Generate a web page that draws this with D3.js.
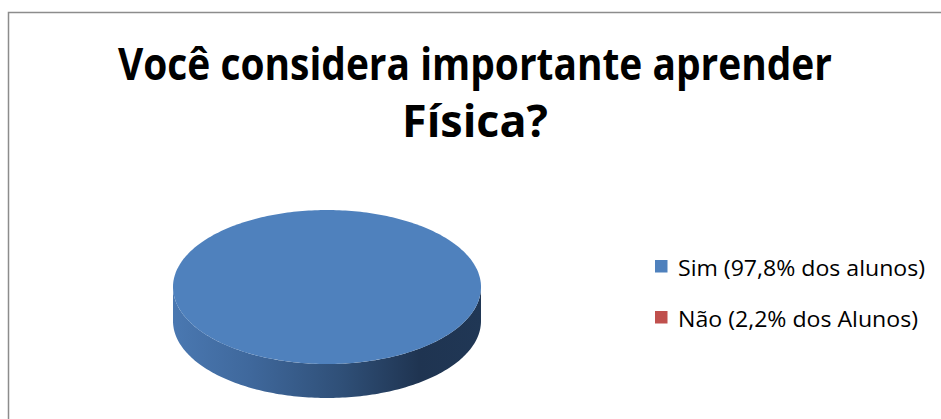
<!DOCTYPE html>
<html>
<head>
<meta charset="utf-8">
<script src="https://cdn.jsdelivr.net/npm/d3@7"></script>
<style>
  body { margin: 0; background: #fff; }
  text { font-family: "Open Sans", "Noto Sans", sans-serif; }
</style>
</head>
<body>
<div id="chart"></div>
<script>
// data
var titleLines = ['Você considera importante aprender', 'Física?']
var categories = ['Sim', 'Não']
var legendLabels = ['Sim (97,8% dos alunos)', 'Não (2,2% dos Alunos)']
// the red slice does not show at all in the picture, the whole disc is blue
var values = [100, 0]
var colors = ['#4f81bd', '#c0504d']

var W = 941, H = 419
var svg = d3.select('#chart').append('svg')
    .attr('width', W)
    .attr('height', H)

// chart frame (only top and left edges show)
svg.append('path')
    .attr('d', 'M8.5,' + H + ' L8.5,12.5 L' + W + ',12.5')
    .attr('fill', 'none')
    .attr('stroke', '#8c8c8c')
    .attr('stroke-width', 1.5)

// title, stretched to the width it has in the picture
var titleWidths = [714, 146]
svg.selectAll('text.title')
    .data(titleLines)
    .enter()
    .append('text')
    .attr('class', 'title')
    .attr('x', 475)
    .attr('y', (d, i) => 80 + i * 57)
    .attr('text-anchor', 'middle')
    .attr('font-size', 44)
    .attr('font-weight', 'bold')
    .attr('fill', '#000')
    .attr('textLength', (d, i) => titleWidths[i])
    .attr('lengthAdjust', 'spacingAndGlyphs')
    .text(d => d)

// 3d pie
var cx = 327, cy = 287, rx = 154, ry = 77, depth = 34
var pie = d3.pie().sort(null)
var arcs = pie(values)

var defs = svg.append('defs')
var sideStops = [
    ['0%', '#4a78b1'], ['25%', '#3f689c'], ['55%', '#2f4f77'],
    ['80%', '#1f3451'], ['100%', '#203755']
]
var grad = defs.append('linearGradient')
    .attr('id', 'side-blue')
    .attr('gradientUnits', 'userSpaceOnUse')
    .attr('x1', cx - rx).attr('x2', cx + rx)
    .attr('y1', 0).attr('y2', 0)
grad.selectAll('stop')
    .data(sideStops)
    .enter()
    .append('stop')
    .attr('offset', d => d[0])
    .attr('stop-color', d => d[1])

var px = a => cx + rx * Math.sin(a)
var py = a => cy - ry * Math.cos(a)

function arcPoints(a0, a1, dy) {
    var pts = [], n = Math.max(2, Math.ceil(Math.abs(a1 - a0) / 0.02))
    for (var k = 0; k <= n; k++) {
        var a = a0 + (a1 - a0) * k / n
        pts.push([px(a), py(a) + dy])
    }
    return pts
}

var line = d3.line()

// side walls, front half only (between pi/2 and 3pi/2)
arcs.forEach(function(d, i) {
    var a0 = Math.max(d.startAngle, Math.PI / 2)
    var a1 = Math.min(d.endAngle, 3 * Math.PI / 2)
    if (a1 <= a0) return
    var pts = arcPoints(a0, a1, 0).concat(arcPoints(a1, a0, depth))
    svg.append('path')
        .attr('d', line(pts) + 'Z')
        .attr('fill', i == 0 ? 'url(#side-blue)' : d3.color(colors[i]).darker(1.2))
})

// top faces
arcs.forEach(function(d, i) {
    if (d.endAngle - d.startAngle <= 0) return
    var pts = arcPoints(d.startAngle, d.endAngle, 0)
    if (d.endAngle - d.startAngle < 2 * Math.PI - 1e-6) pts.unshift([cx, cy])
    svg.append('path')
        .attr('d', line(pts) + 'Z')
        .attr('fill', colors[i])
})

// legend
var legend = svg.selectAll('g.legend')
    .data(categories)
    .enter()
    .append('g')
    .attr('class', 'legend')
    .attr('transform', (d, i) => 'translate(655,' + (260 + i * 51) + ')')
legend.append('rect')
    .attr('width', 12.5)
    .attr('height', 12.5)
    .attr('fill', (d, i) => colors[i])
legend.append('text')
    .attr('x', 23)
    .attr('y', 16)
    .attr('font-size', 21)
    .attr('fill', '#000')
    .attr('textLength', (d, i) => i == 0 ? 247 : 240)
    .attr('lengthAdjust', 'spacingAndGlyphs')
    .text((d, i) => legendLabels[i])
</script>
</body>
</html>
